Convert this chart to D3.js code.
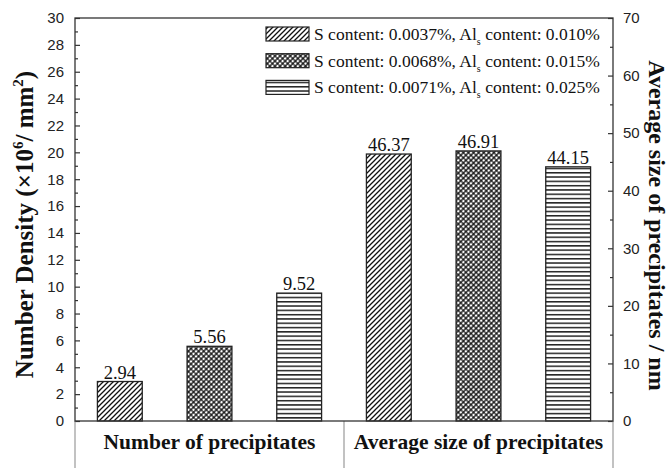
<!DOCTYPE html>
<html><head><meta charset="utf-8">
<script src="https://cdn.jsdelivr.net/npm/d3@7"></script>
<style>body{margin:0;background:#fff}svg{display:block}
.serif{font-family:"Liberation Serif","Tinos","Times New Roman","DejaVu Serif",serif}
.sans{font-family:"Liberation Sans",Arimo,Arial,sans-serif}
</style>
</head><body>
<svg id="c" width="670" height="468"></svg>
<script>
const categories = ["Number of precipitates", "Average size of precipitates"];
const seriesS = ["0.0037%", "0.0068%", "0.0071%"];
const seriesAl = ["0.010%", "0.015%", "0.025%"];
const numberDensity = [2.94, 5.56, 9.52];
const avgSize = [46.37, 46.91, 44.15];
const leftTicks = [0,2,4,6,8,10,12,14,16,18,20,22,24,26,28,30];
const rightTicks = [0,10,20,30,40,50,60,70];

const svg = d3.select("#c");
const L = 75, R = 613, T = 18, B = 421;

// patterns
const defs = svg.append("defs");
const p0 = defs.append("pattern").attr("id","pat0").attr("patternUnits","userSpaceOnUse")
  .attr("width",5).attr("height",5);
p0.append("rect").attr("width",5).attr("height",5).attr("fill","#fff");
p0.append("path").attr("d","M-1,1 L1,-1 M0,5 L5,0 M4,6 L6,4").attr("stroke","#111").attr("stroke-width",1.3);
const p1 = defs.append("pattern").attr("id","pat1").attr("patternUnits","userSpaceOnUse")
  .attr("width",3.6).attr("height",3.6).attr("patternTransform","rotate(45)");
p1.append("rect").attr("width",3.6).attr("height",3.6).attr("fill","#1e1e1e");
p1.append("circle").attr("cx",1.8).attr("cy",1.8).attr("r",1.25).attr("fill","#fff");
const p2 = defs.append("pattern").attr("id","pat2").attr("patternUnits","userSpaceOnUse")
  .attr("width",4).attr("height",4.3);
p2.append("rect").attr("width",4).attr("height",4.3).attr("fill","#fff");
p2.append("rect").attr("y",0).attr("width",4).attr("height",1.5).attr("fill","#222");

const slots = d3.range(6);
const x = d3.scaleBand().domain(slots).range([L,R]).paddingInner(0.5).paddingOuter(0.25);
const xg = d3.scaleBand().domain(categories).range([L,R]);
const yL = d3.scaleLinear().domain([0,30]).range([B,T]);
const yR = d3.scaleLinear().domain([0,70]).range([B,T]);

const bars = [];
numberDensity.forEach((v,i)=>bars.push({slot:i, v, y:yL(v), s:i}));
avgSize.forEach((v,i)=>bars.push({slot:3+i, v, y:yR(v), s:i}));

svg.selectAll("rect.bar").data(bars).join("rect").attr("class","bar")
  .attr("x",d=>x(d.slot)).attr("width",x.bandwidth())
  .attr("y",d=>d.y).attr("height",d=>B-d.y)
  .attr("fill",d=>`url(#pat${d.s})`).attr("stroke","#222").attr("stroke-width",1.3);

svg.selectAll("text.val").data(bars).join("text").attr("class","val serif")
  .attr("x",d=>x(d.slot)+x.bandwidth()/2).attr("y",d=>d.y-3)
  .attr("text-anchor","middle").style("font-size","18.5px").attr("fill","#111")
  .text(d=>d.v.toFixed(2));

// axes ticks
const gL = svg.append("g").attr("transform",`translate(${L},0)`)
  .call(d3.axisLeft(yL).tickValues(leftTicks).tickSizeInner(-5).tickSizeOuter(0).tickPadding(11).tickFormat(d3.format("d")));
const gLm = svg.append("g").attr("transform",`translate(${L},0)`)
  .call(d3.axisLeft(yL).tickValues(d3.range(1,30,2)).tickSize(-3).tickFormat(""));
const gR = svg.append("g").attr("transform",`translate(${R},0)`)
  .call(d3.axisRight(yR).tickValues(rightTicks).tickSizeInner(-5).tickSizeOuter(0).tickPadding(10).tickFormat(d3.format("d")));
const gRm = svg.append("g").attr("transform",`translate(${R},0)`)
  .call(d3.axisRight(yR).tickValues(d3.range(5,70,10)).tickSize(-3).tickFormat(""));
[gL,gLm,gR,gRm].forEach(g=>{
  g.attr("font-family",null).attr("font-size",null);
  g.select(".domain").remove();
  g.selectAll("line").attr("stroke","#333").attr("stroke-width",1.2);
  g.selectAll("text").attr("class","sans").style("font-size","15px").attr("fill","#222");
});

// extension lines below plot
svg.append("g").selectAll("line").data([L, xg(categories[1]), R]).join("line")
  .attr("x1",d=>d).attr("x2",d=>d).attr("y1",B).attr("y2",468)
  .attr("stroke","#999").attr("stroke-width",1.2);

// frame
svg.append("rect").attr("x",L).attr("y",T).attr("width",R-L).attr("height",B-T)
  .attr("fill","none").attr("stroke","#333").attr("stroke-width",1.3);

// category labels
svg.selectAll("text.cat").data(categories).join("text").attr("class","cat serif")
  .attr("x",d=>xg(d)+xg.bandwidth()/2).attr("y",449).attr("text-anchor","middle")
  .style("font-weight","bold").style("font-size","21.5px").attr("fill","#111")
  .text(d=>d);

// left title
const lt = svg.append("text").attr("class","serif").attr("transform",`translate(33,${(T+B)/2 + 5}) rotate(-90)`)
  .attr("text-anchor","middle").style("font-weight","bold")
  .style("font-size","25px").attr("fill","#111");
lt.append("tspan").text("Number Density (×10");
lt.append("tspan").attr("dy",-10).style("font-size","15px").text("6");
lt.append("tspan").attr("dy",10).text("/ mm");
lt.append("tspan").attr("dy",-10).style("font-size","15px").text("2");
lt.append("tspan").attr("dy",10).text(")");

// right title
svg.append("text").attr("class","serif").attr("transform",`translate(649,${(T+B)/2 + 6}) rotate(90)`)
  .attr("text-anchor","middle").style("font-weight","bold")
  .style("font-size","24px").attr("fill","#111").text("Average size of precipitates / nm");

// legend
const leg = svg.append("g");
seriesS.forEach((s,i)=>{
  const yy = 27 + i*26.7;
  leg.append("rect").attr("x",266).attr("y",yy).attr("width",43).attr("height",14)
    .attr("fill",`url(#pat${i})`).attr("stroke","#222").attr("stroke-width",1.2);
  const t = leg.append("text").attr("class","serif").attr("x",314).attr("y",yy+13)
    .style("font-size","17.5px").attr("fill","#111");
  t.append("tspan").text(`S content: ${s}, Al`);
  t.append("tspan").attr("dy",5).style("font-size","10px").text("s");
  t.append("tspan").attr("dy",-5).text(` content: ${seriesAl[i]}`);
});
</script>
</body></html>
